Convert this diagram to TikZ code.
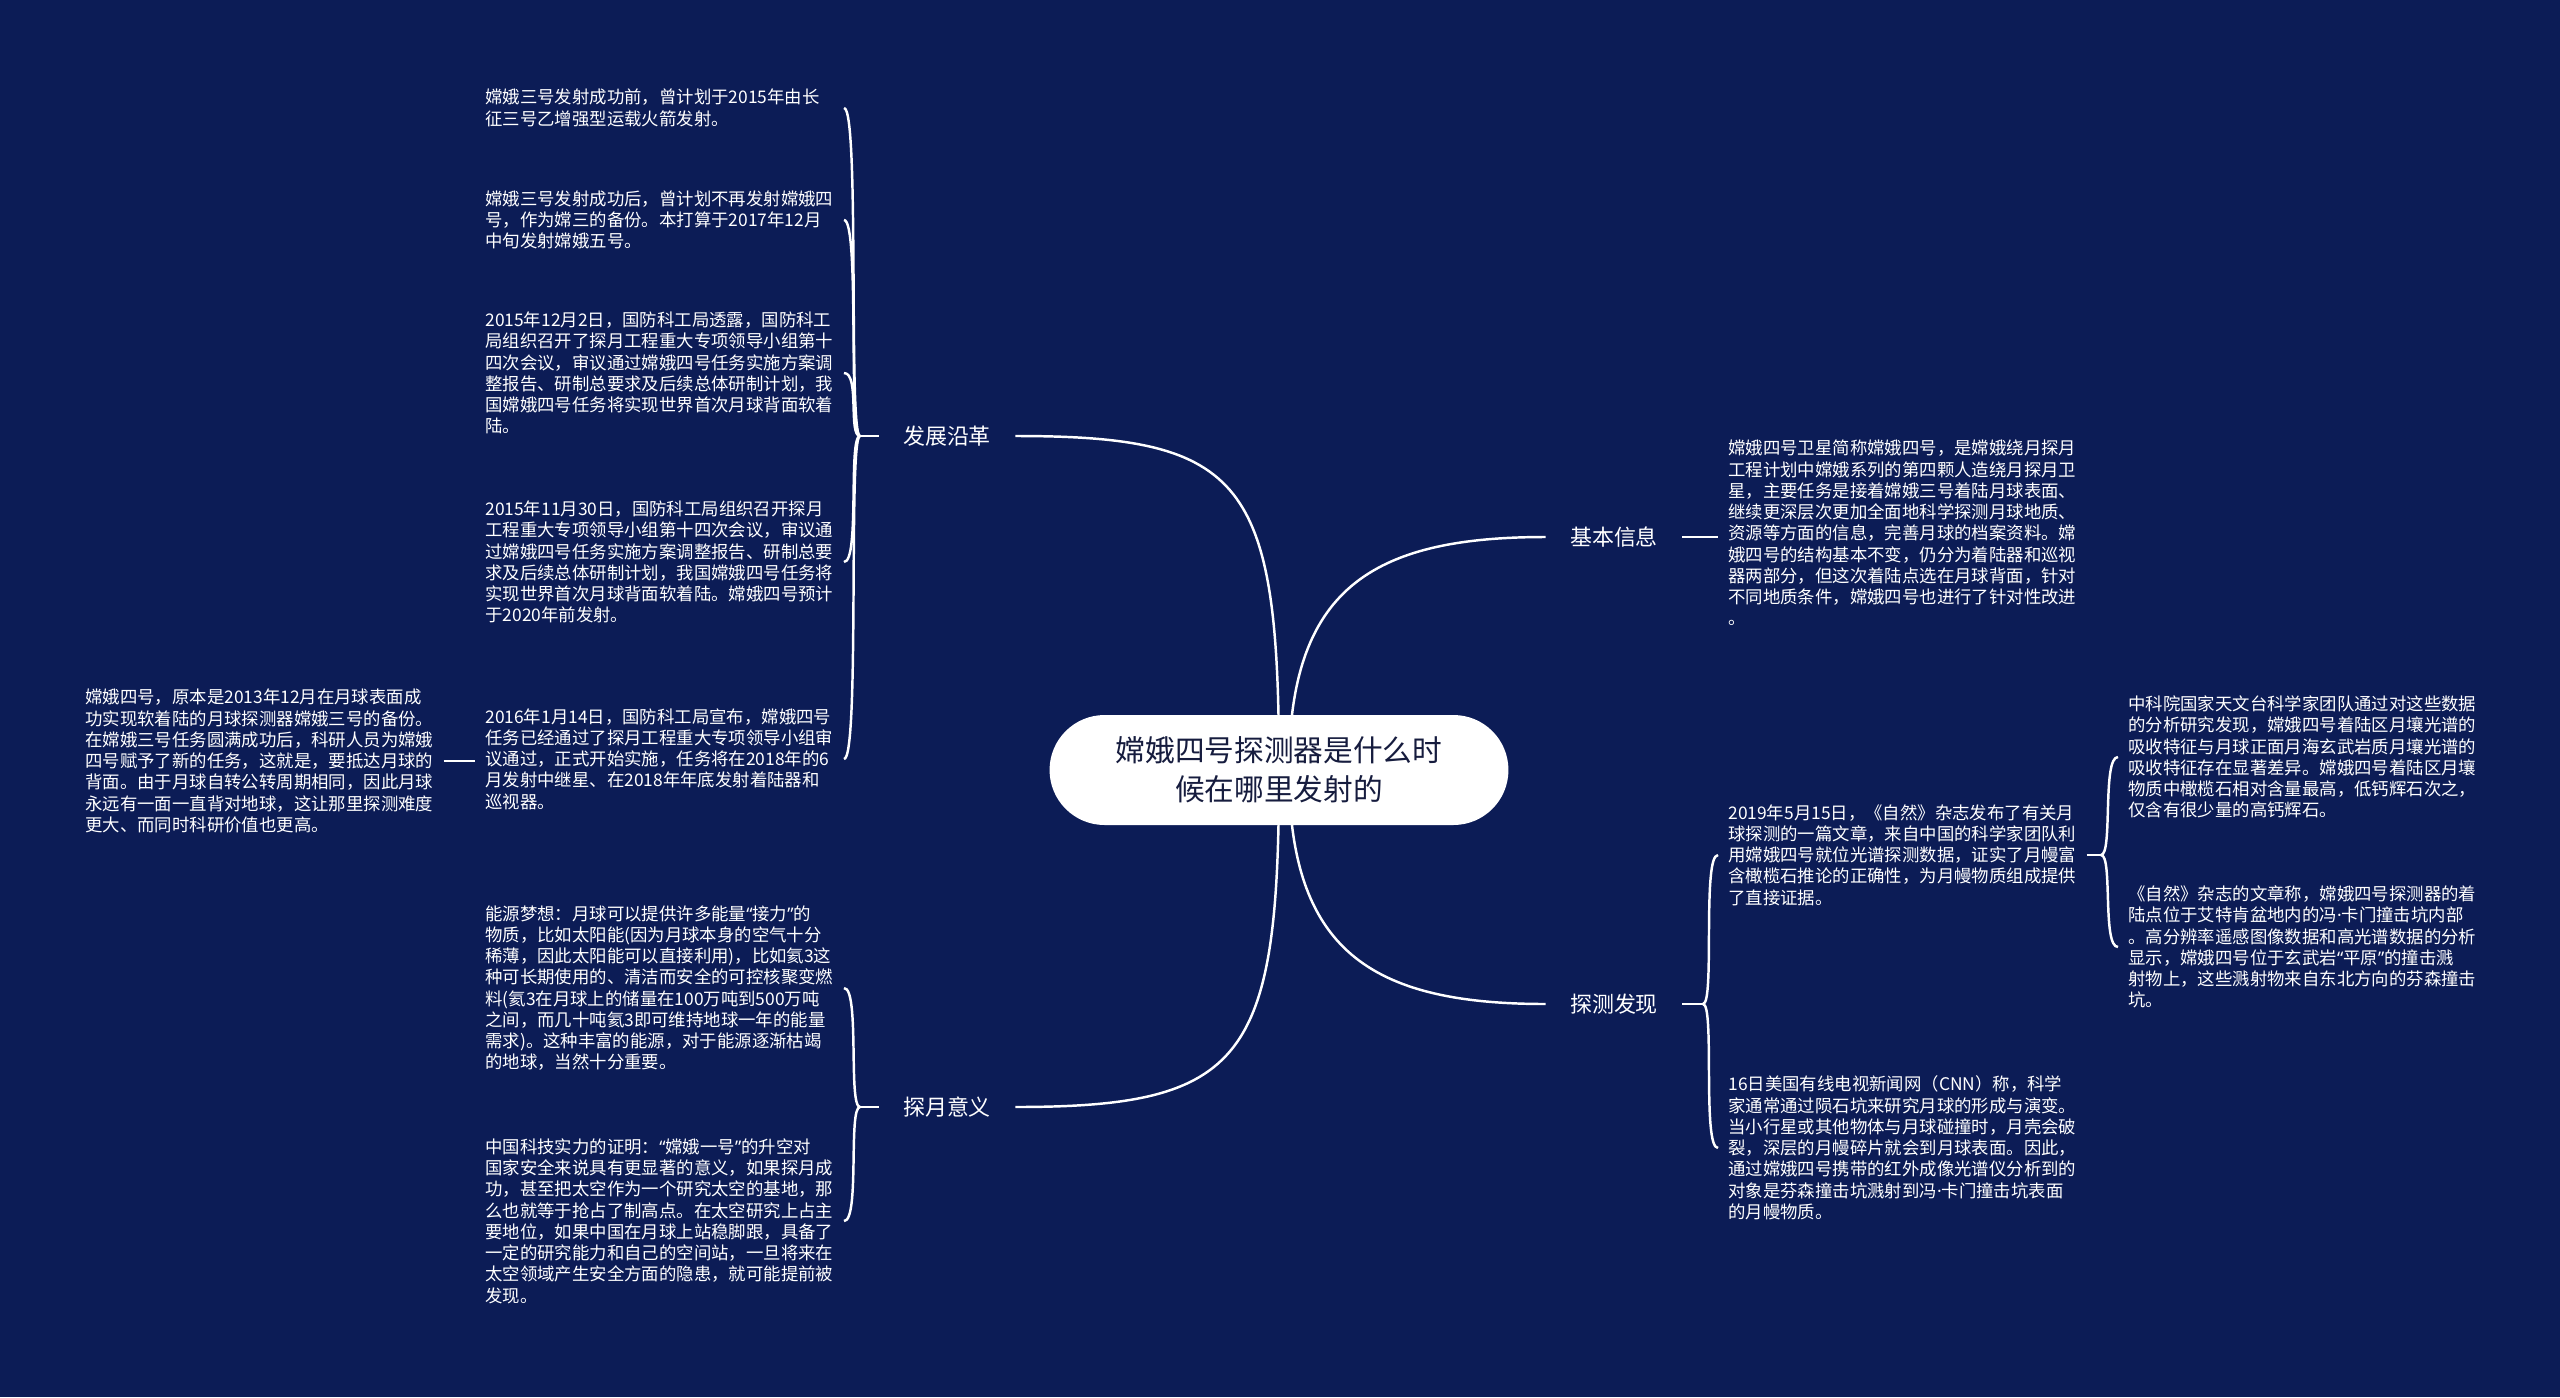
\documentclass[tikz,border=0pt]{standalone}
\usepackage{fontspec}
\setmainfont{Noto Sans CJK SC}
\newfontfamily\latq{Noto Sans}
\newcommand{\myLq}{{\latq “}}
\newcommand{\myRq}{{\latq ”}}
\newcommand{\myDot}{{\latq ·}}
\definecolor{bg}{RGB}{12,28,86}
\definecolor{ctext}{RGB}{22,28,62}
\begin{document}
\begin{tikzpicture}[x=0.02cm,y=-0.02cm,
  conn/.style={draw=white, line width=1.4pt},
  txt/.style={text=white, font=\fontsize{9.9pt}{12.1pt}\selectfont, align=left, inner xsep=0.2cm, inner ysep=0pt, anchor=west},
  lbl/.style={text=white, font=\fontsize{12.5pt}{15pt}\selectfont, inner xsep=0.48cm, inner ysep=2pt},
  centre/.style={fill=white, text=ctext, rounded corners=1.1cm, minimum width=9.18cm, minimum height=2.2cm, align=center, font=\fontsize{16.9pt}{22pt}\selectfont}
  ]
\fill[bg] (0,0) rectangle (2560,1397);
\useasboundingbox (0,0) rectangle (2560,1397);

% labels
\node[lbl] (k1) at (947,436) {发展沿革};
\node[lbl] (k2) at (1614,537) {基本信息};
\node[lbl] (k3) at (1614,1004) {探测发现};
\node[lbl] (k4) at (947,1107) {探月意义};

% left texts
\node[txt] (c1) at (475,108) {嫦娥三号发射成功前，曾计划于2015年由长\\征三号乙增强型运载火箭发射。};
\node[txt] (c2) at (475,220) {嫦娥三号发射成功后，曾计划不再发射嫦娥四\\号，作为嫦三的备份。本打算于2017年12月\\中旬发射嫦娥五号。};
\node[txt] (c3) at (475,373) {2015年12月2日，国防科工局透露，国防科工\\局组织召开了探月工程重大专项领导小组第十\\四次会议，审议通过嫦娥四号任务实施方案调\\整报告、研制总要求及后续总体研制计划，我\\国嫦娥四号任务将实现世界首次月球背面软着\\陆。};
\node[txt] (c4) at (475,562) {2015年11月30日，国防科工局组织召开探月\\工程重大专项领导小组第十四次会议，审议通\\过嫦娥四号任务实施方案调整报告、研制总要\\求及后续总体研制计划，我国嫦娥四号任务将\\实现世界首次月球背面软着陆。嫦娥四号预计\\于2020年前发射。};
\node[txt] (c5) at (475,759) {2016年1月14日，国防科工局宣布，嫦娥四号\\任务已经通过了探月工程重大专项领导小组审\\议通过，正式开始实施，任务将在2018年的6\\月发射中继星、在2018年年底发射着陆器和\\巡视器。};
\node[txt] (gc) at (75,761) {嫦娥四号，原本是2013年12月在月球表面成\\功实现软着陆的月球探测器嫦娥三号的备份。\\在嫦娥三号任务圆满成功后，科研人员为嫦娥\\四号赋予了新的任务，这就是，要抵达月球的\\背面。由于月球自转公转周期相同，因此月球\\永远有一面一直背对地球，这让那里探测难度\\更大、而同时科研价值也更高。};
\node[txt] (m1) at (475,988) {能源梦想：月球可以提供许多能量\myLq 接力\myRq 的\\物质，比如太阳能(因为月球本身的空气十分\\稀薄，因此太阳能可以直接利用)，比如氦3这\\种可长期使用的、清洁而安全的可控核聚变燃\\料(氦3在月球上的储量在100万吨到500万吨\\之间，而几十吨氦3即可维持地球一年的能量\\需求)。这种丰富的能源，对于能源逐渐枯竭\\的地球，当然十分重要。};
\node[txt] (m2) at (475,1221) {中国科技实力的证明：\myLq 嫦娥一号\myRq 的升空对\\国家安全来说具有更显著的意义，如果探月成\\功，甚至把太空作为一个研究太空的基地，那\\么也就等于抢占了制高点。在太空研究上占主\\要地位，如果中国在月球上站稳脚跟，具备了\\一定的研究能力和自己的空间站，一旦将来在\\太空领域产生安全方面的隐患，就可能提前被\\发现。};

% right texts
\node[txt] (basic) at (1718,533) {嫦娥四号卫星简称嫦娥四号，是嫦娥绕月探月\\工程计划中嫦娥系列的第四颗人造绕月探月卫\\星，主要任务是接着嫦娥三号着陆月球表面、\\继续更深层次更加全面地科学探测月球地质、\\资源等方面的信息，完善月球的档案资料。嫦\\娥四号的结构基本不变，仍分为着陆器和巡视\\器两部分，但这次着陆点选在月球背面，针对\\不同地质条件，嫦娥四号也进行了针对性改进\\。};
\node[txt] (dA) at (1718,855) {2019年5月15日，《自然》杂志发布了有关月\\球探测的一篇文章，来自中国的科学家团队利\\用嫦娥四号就位光谱探测数据，证实了月幔富\\含橄榄石推论的正确性，为月幔物质组成提供\\了直接证据。};
\node[txt] (dA1) at (2118,757) {中科院国家天文台科学家团队通过对这些数据\\的分析研究发现，嫦娥四号着陆区月壤光谱的\\吸收特征与月球正面月海玄武岩质月壤光谱的\\吸收特征存在显著差异。嫦娥四号着陆区月壤\\物质中橄榄石相对含量最高，低钙辉石次之，\\仅含有很少量的高钙辉石。};
\node[txt] (dA2) at (2118,947) {《自然》杂志的文章称，嫦娥四号探测器的着\\陆点位于艾特肯盆地内的冯\myDot 卡门撞击坑内部\\。高分辨率遥感图像数据和高光谱数据的分析\\显示，嫦娥四号位于玄武岩\myLq 平原\myRq 的撞击溅\\射物上，这些溅射物来自东北方向的芬森撞击\\坑。};
\node[txt] (dB) at (1718,1148) {16日美国有线电视新闻网（CNN）称，科学\\家通常通过陨石坑来研究月球的形成与演变。\\当小行星或其他物体与月球碰撞时，月壳会破\\裂，深层的月幔碎片就会到月球表面。因此，\\通过嫦娥四号携带的红外成像光谱仪分析到的\\对象是芬森撞击坑溅射到冯\myDot 卡门撞击坑表面\\的月幔物质。};

% junction coordinates
\coordinate (j1) at (860,436);
\coordinate (j2) at (860,1107);
\coordinate (j3) at (1703,1004);
\coordinate (j4) at (2101,855);
\coordinate (hkL) at (844,0);
\coordinate (cL) at (1279,770);
\coordinate (cR) at (1289,770);

% centre connectors
\draw[conn] (cL) .. controls (1279,480) and (1245,436) .. (k1.east);
\draw[conn] (cR) .. controls (1289,590) and (1370,537) .. (k2.west);
\draw[conn] (cR) .. controls (1289,950) and (1370,1004) .. (k3.west);
\draw[conn] (cL) .. controls (1279,1060) and (1245,1107) .. (k4.east);

% 发展沿革 bracket
\draw[conn] (k1.west) -- (j1);
\foreach \c in {c1,c2,c3,c4,c5}
  \draw[conn] (j1) .. controls +(-12,0) and +(16,0) .. (\c.east -| hkL);
\draw[conn] (gc.east) -- (gc.east -| c5.west);

% 探月意义 bracket
\draw[conn] (k4.west) -- (j2);
\foreach \c in {m1,m2}
  \draw[conn] (j2) .. controls +(-12,0) and +(16,0) .. (\c.east -| hkL);

% 基本信息
\draw[conn] (k2.east) -- (k2.east -| basic.west);

% 探测发现 bracket
\draw[conn] (k3.east) -- (j3);
\foreach \c in {dA,dB}
  \draw[conn] (j3) .. controls +(12,0) and +(-16,0) .. (\c.west);
\draw[conn] (dA.east) -- (j4);
\foreach \c in {dA1,dA2}
  \draw[conn] (j4) .. controls +(12,0) and +(-16,0) .. (\c.west);

% centre node
\node[centre] (ct) at (1279,770) {嫦娥四号探测器是什么时\\候在哪里发射的};
\end{tikzpicture}
\end{document}
